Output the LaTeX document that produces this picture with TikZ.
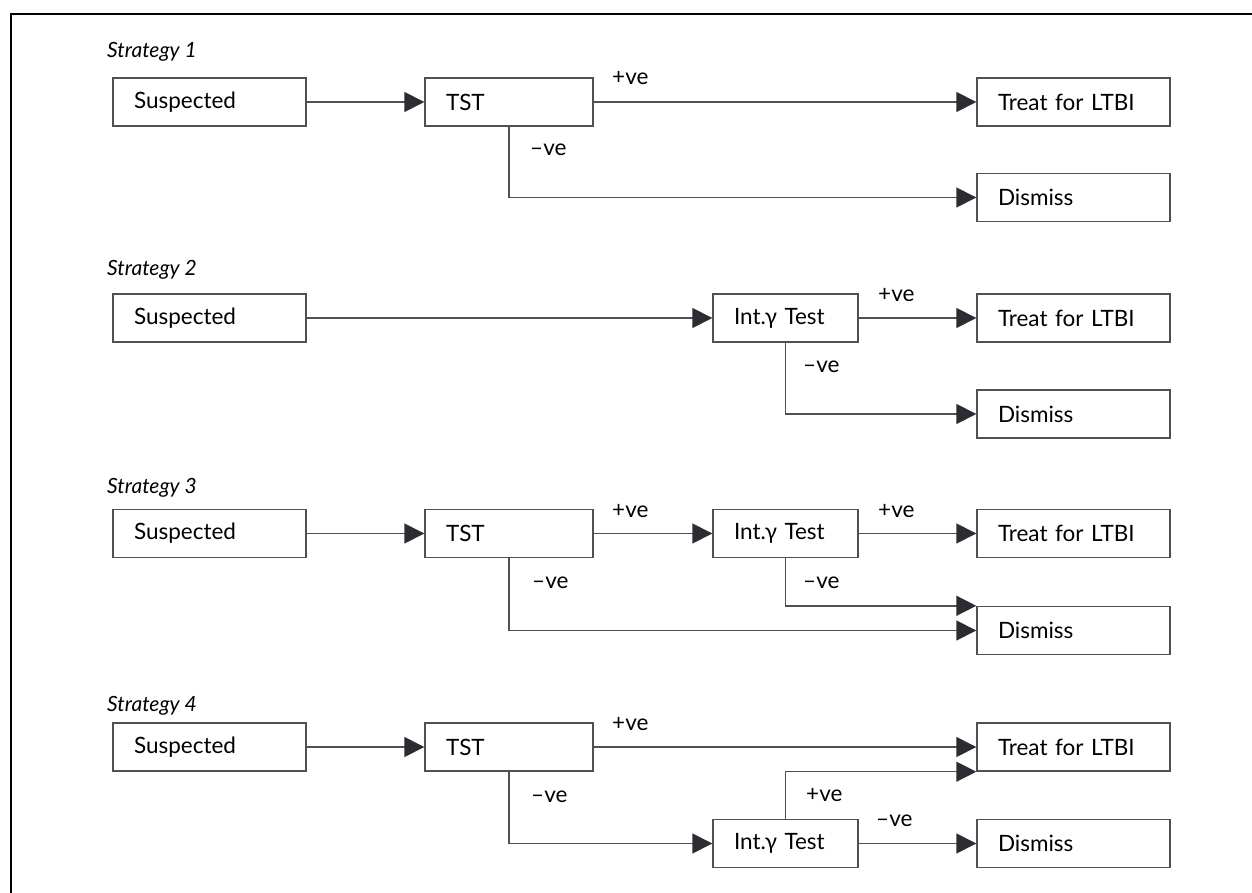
\documentclass[tikz,border=0pt]{standalone}
\usepackage{fontspec}
\setmainfont{Lato}
\usetikzlibrary{arrows.meta}
\definecolor{linec}{HTML}{4F5055}
\definecolor{tipc}{HTML}{2B2D33}
\tikzset{
  box/.style={draw=linec, line width=1.4pt, minimum height=48pt,
    inner xsep=21pt, inner ysep=0pt, text width=#1-42pt, align=left,
    font=\fontsize{22.5}{26}\selectfont},
  lbl/.style={font=\fontsize{22.5}{26}\selectfont, inner sep=0pt, anchor=west},
  strat/.style={font=\itshape\fontsize{21}{24}\selectfont, inner sep=0pt, anchor=west},
  arr/.style={draw=linec, line width=1.4pt,
    -{Triangle[length=20pt, width=20pt, color=tipc]}},
}
\begin{document}
\begin{tikzpicture}[x=1pt, y=-1pt]
\useasboundingbox (0,0) rectangle (1252,893);
% open frame
\draw[line width=1.4pt, black] (11,893) -- (11,14) -- (1252,14);

% ---------- Strategy 1 ----------
\node[strat] (s1) at (107,52) {Strategy 1};
\node[box=193pt] (sus1) at (209.5,102) {Suspected};
\node[box=168pt] (tst1) at (509,102) {TST};
\node[box=193pt] (trt1) at (1073.5,102) {Treat for LTBI};
\node[box=193pt] (dis1) at (1073.5,197.5) {Dismiss};
\draw[arr] (sus1) -- (tst1);
\draw[arr] (tst1) -- (trt1);
\draw[arr] (tst1.south) |- (dis1.west);
\node[lbl] (p1) at (612,78) {+ve};
\node[lbl] (m1) at (530,150) {–ve};

% ---------- Strategy 2 ----------
\node[strat] (s2) at (107,270) {Strategy 2};
\node[box=193pt] (sus2) at (209.5,318) {Suspected};
\node[box=145pt] (ig2) at (785.5,318) {Int.γ Test};
\node[box=193pt] (trt2) at (1073.5,318) {Treat for LTBI};
\node[box=193pt] (dis2) at (1073.5,414) {Dismiss};
\draw[arr] (sus2) -- (ig2);
\draw[arr] (ig2) -- (trt2);
\draw[arr] (ig2.south) |- (dis2.west);
\node[lbl] (p2) at (878,295) {+ve};
\node[lbl] (m2) at (803,367) {–ve};

% ---------- Strategy 3 ----------
\node[strat] (s3) at (107,488) {Strategy 3};
\node[box=193pt] (sus3) at (209.5,533.5) {Suspected};
\node[box=168pt] (tst3) at (509,533.5) {TST};
\node[box=145pt] (ig3) at (785.5,533.5) {Int.γ Test};
\node[box=193pt] (trt3) at (1073.5,533.5) {Treat for LTBI};
\node[box=193pt] (dis3) at (1073.5,630.5) {Dismiss};
\draw[arr] (sus3) -- (tst3);
\draw[arr] (tst3) -- (ig3);
\draw[arr] (ig3) -- (trt3);
\draw[arr] (ig3.south) |- (dis3.north west);
\draw[arr] (tst3.south) |- (dis3.west);
\node[lbl] (p3a) at (612,511) {+ve};
\node[lbl] (p3b) at (878,511) {+ve};
\node[lbl] (m3a) at (532,583) {–ve};
\node[lbl] (m3b) at (803,583) {–ve};

% ---------- Strategy 4 ----------
\node[strat] (s4) at (107,706) {Strategy 4};
\node[box=193pt] (sus4) at (209.5,747) {Suspected};
\node[box=168pt] (tst4) at (509,747) {TST};
\node[box=193pt] (trt4) at (1073.5,747) {Treat for LTBI};
\node[box=145pt] (ig4) at (785.5,843.5) {Int.γ Test};
\node[box=193pt] (dis4) at (1073.5,843.5) {Dismiss};
\draw[arr] (sus4) -- (tst4);
\draw[arr] (tst4) -- (trt4);
\draw[arr] (tst4.south) |- (ig4.west);
\draw[arr] (ig4.north) |- (trt4.south west);
\draw[arr] (ig4) -- (dis4);
\node[lbl] (p4a) at (612,724) {+ve};
\node[lbl] (m4a) at (531,797) {–ve};
\node[lbl] (p4b) at (806,795) {+ve};
\node[lbl] (m4b) at (876,821) {–ve};
\end{tikzpicture}
\end{document}
